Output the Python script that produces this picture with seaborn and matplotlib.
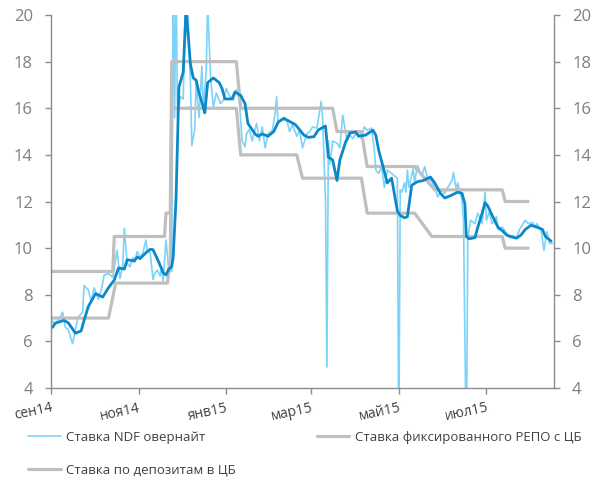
import matplotlib
matplotlib.use("Agg")
import matplotlib.pyplot as plt
import pandas as pd
import seaborn as sns

# ---- data -------------------------------------------------------------
ndf_dates = [
    "2014-09-23", "2014-09-26", "2014-09-29", "2014-10-01", "2014-10-03", "2014-10-05",
    "2014-10-08", "2014-10-11", "2014-10-12", "2014-10-15", "2014-10-16", "2014-10-19",
    "2014-10-21", "2014-10-23", "2014-10-26", "2014-10-28", "2014-10-30", "2014-11-02",
    "2014-11-05", "2014-11-07", "2014-11-08", "2014-11-10", "2014-11-12", "2014-11-13",
    "2014-11-15", "2014-11-17", "2014-11-19", "2014-11-20", "2014-11-22", "2014-11-24",
    "2014-11-26", "2014-11-28", "2014-11-29", "2014-12-01", "2014-12-03", "2014-12-04",
    "2014-12-06", "2014-12-08", "2014-12-09", "2014-12-10", "2014-12-12", "2014-12-14",
    "2014-12-16", "2014-12-17", "2014-12-18", "2014-12-19", "2014-12-20", "2014-12-22",
    "2014-12-24", "2014-12-26", "2014-12-29", "2014-12-30", "2015-01-01", "2015-01-02",
    "2015-01-04", "2015-01-06", "2015-01-07", "2015-01-09", "2015-01-10", "2015-01-12",
    "2015-01-14", "2015-01-16", "2015-01-19", "2015-01-21", "2015-01-23", "2015-01-25",
    "2015-01-28", "2015-01-30", "2015-02-01", "2015-02-03", "2015-02-05", "2015-02-06",
    "2015-02-08", "2015-02-10", "2015-02-13", "2015-02-15", "2015-02-17", "2015-02-19",
    "2015-02-21", "2015-02-24", "2015-02-26", "2015-02-27", "2015-02-28", "2015-03-02",
    "2015-03-06", "2015-03-08", "2015-03-10", "2015-03-13", "2015-03-15", "2015-03-17",
    "2015-03-20", "2015-03-22", "2015-03-24", "2015-03-27", "2015-03-28", "2015-03-30",
    "2015-03-31", "2015-04-02", "2015-04-03", "2015-04-04", "2015-04-05", "2015-04-07",
    "2015-04-10", "2015-04-12", "2015-04-14", "2015-04-17", "2015-04-19", "2015-04-21",
    "2015-04-24", "2015-04-27", "2015-04-29", "2015-05-01", "2015-05-04", "2015-05-06",
    "2015-05-07", "2015-05-09", "2015-05-11", "2015-05-13", "2015-05-15", "2015-05-18",
    "2015-05-22", "2015-05-23", "2015-05-24", "2015-05-25", "2015-05-27", "2015-05-28",
    "2015-05-29", "2015-05-30", "2015-06-02", "2015-06-03", "2015-06-05", "2015-06-08",
    "2015-06-10", "2015-06-12", "2015-06-15", "2015-06-17", "2015-06-19", "2015-06-22",
    "2015-06-24", "2015-06-26", "2015-06-29", "2015-06-30", "2015-07-02", "2015-07-03",
    "2015-07-06", "2015-07-07", "2015-07-09", "2015-07-10", "2015-07-12", "2015-07-15",
    "2015-07-17", "2015-07-20", "2015-07-22", "2015-07-23", "2015-07-25", "2015-07-27",
    "2015-07-30", "2015-07-31", "2015-08-01", "2015-08-03", "2015-08-06", "2015-08-08",
    "2015-08-10", "2015-08-13", "2015-08-15", "2015-08-19", "2015-08-21", "2015-08-24",
    "2015-08-26", "2015-08-27", "2015-08-30", "2015-09-01", "2015-09-03", "2015-09-05",
    "2015-09-07",
]
ndf_values = [
    6.9, 6.75, 7.0, 7.25, 6.6, 6.5,
    5.9, 6.8, 7.05, 7.25, 8.4, 8.2,
    7.7, 8.3, 7.8, 8.2, 8.85, 8.9,
    8.75, 9.5, 9.9, 8.7, 9.3, 10.85,
    9.35, 9.2, 9.6, 9.4, 9.85, 9.6,
    9.8, 10.35, 9.9, 9.8, 8.65, 8.9,
    9.05, 8.8, 9.2, 8.55, 10.35, 9.05,
    9.0, 22.0, 15.6, 22.0, 15.6, 16.5,
    16.4, 22.0, 17.2, 14.4, 15.1, 17.1,
    15.6, 17.8, 15.9, 17.6, 20.5, 17.35,
    16.05, 16.65, 16.2, 16.35, 16.85, 16.55,
    16.35, 16.8, 16.35, 14.6, 14.35, 14.9,
    15.1, 14.6, 15.35, 14.6, 15.2, 14.3,
    14.9, 15.05, 15.8, 16.5, 15.35, 15.5,
    15.5, 15.0, 15.3, 14.8, 15.05, 14.3,
    14.9, 15.0, 15.2, 15.15, 15.5, 16.3,
    15.6, 12.05, 4.9, 14.6, 13.6, 14.6,
    14.5, 14.3, 15.7, 14.6, 14.85, 14.7,
    15.0, 14.7, 15.2, 15.05, 15.15, 14.2,
    13.35, 13.2, 13.5, 12.6, 13.35, 13.2,
    13.0, 1.0, 12.5, 12.4, 12.8, 12.4,
    13.35, 12.6, 13.4, 12.8, 13.55, 13.1,
    13.5, 13.0, 12.85, 12.6, 12.2, 12.5,
    12.35, 12.6, 12.9, 13.25, 12.5, 12.8,
    12.05, 11.2, 1.0, 10.45, 11.2, 11.05,
    11.5, 11.05, 12.4, 11.2, 11.55, 11.05,
    11.35, 10.8, 10.8, 10.9, 10.65, 10.45,
    10.55, 10.45, 10.8, 11.2, 11.05, 11.1,
    10.9, 11.05, 10.8, 9.9, 10.7, 10.2,
    10.2,
]

# smoothed NDF overnight rate
ma_dates = [
    "2014-09-24", "2014-09-26", "2014-10-02", "2014-10-05", "2014-10-10", "2014-10-14",
    "2014-10-16", "2014-10-19", "2014-10-24", "2014-10-29", "2014-11-02", "2014-11-06",
    "2014-11-09", "2014-11-13", "2014-11-15", "2014-11-20", "2014-11-22", "2014-11-24",
    "2014-11-28", "2014-12-01", "2014-12-03", "2014-12-07", "2014-12-10", "2014-12-12",
    "2014-12-14", "2014-12-16", "2014-12-17", "2014-12-19", "2014-12-21", "2014-12-24",
    "2014-12-26", "2014-12-29", "2014-12-31", "2015-01-02", "2015-01-04", "2015-01-07",
    "2015-01-08", "2015-01-10", "2015-01-14", "2015-01-18", "2015-01-20", "2015-01-22",
    "2015-01-27", "2015-01-29", "2015-02-02", "2015-02-05", "2015-02-07", "2015-02-12",
    "2015-02-14", "2015-02-17", "2015-02-21", "2015-02-25", "2015-02-28", "2015-03-04",
    "2015-03-09", "2015-03-12", "2015-03-18", "2015-03-21", "2015-03-25", "2015-03-28",
    "2015-04-02", "2015-04-04", "2015-04-07", "2015-04-10", "2015-04-12", "2015-04-16",
    "2015-04-19", "2015-04-23", "2015-04-25", "2015-04-30", "2015-05-05", "2015-05-07",
    "2015-05-09", "2015-05-12", "2015-05-15", "2015-05-18", "2015-05-22", "2015-05-24",
    "2015-05-27", "2015-05-29", "2015-06-01", "2015-06-05", "2015-06-09", "2015-06-14",
    "2015-06-17", "2015-06-21", "2015-06-24", "2015-06-28", "2015-07-03", "2015-07-06",
    "2015-07-08", "2015-07-09", "2015-07-11", "2015-07-15", "2015-07-17", "2015-07-20",
    "2015-07-22", "2015-07-24", "2015-07-27", "2015-07-31", "2015-08-03", "2015-08-06",
    "2015-08-10", "2015-08-13", "2015-08-16", "2015-08-19", "2015-08-23", "2015-08-27",
    "2015-08-31", "2015-09-02", "2015-09-06",
]
ma_values = [
    6.6, 6.78, 6.9, 6.8, 6.35, 6.45,
    6.9, 7.5, 8.05, 7.9, 8.3, 8.63,
    9.15, 9.1, 9.5, 9.45, 9.62, 9.55,
    9.8, 9.95, 9.93, 9.4, 8.95, 8.85,
    9.1, 9.2, 9.6, 12.1, 16.9, 17.55,
    20.3, 17.9, 17.3, 17.2, 16.65, 16.05,
    15.8, 17.1, 17.3, 17.1, 16.85, 16.4,
    16.4, 16.7, 16.55, 16.2, 15.35, 14.9,
    14.8, 14.9, 14.8, 15.0, 15.4, 15.57,
    15.4, 15.3, 14.85, 14.75, 14.78, 15.07,
    15.24, 13.9, 13.78, 12.9, 13.78, 14.55,
    14.94, 14.98, 14.8, 14.85, 15.06, 14.85,
    14.2, 13.5, 12.8, 13.0, 11.6, 11.4,
    11.3, 11.35, 12.7, 12.85, 12.9, 13.05,
    12.8, 12.35, 12.15, 12.25, 12.4, 12.35,
    11.9, 10.5, 10.4, 10.45, 10.9, 11.5,
    11.95, 11.8, 11.4, 10.9, 10.75, 10.56,
    10.47, 10.43, 10.56, 10.8, 10.98, 10.9,
    10.8, 10.5, 10.3,
]

repo_dates = [
    "2014-09-23", "2014-11-05", "2014-11-06", "2014-12-11", "2014-12-12", "2014-12-15",
    "2014-12-16", "2015-01-30", "2015-02-02", "2015-04-07", "2015-04-10", "2015-04-27",
    "2015-05-01", "2015-06-03", "2015-06-17", "2015-08-03", "2015-08-05", "2015-08-21",
]
repo_values = [
    9.0, 9.0, 10.5, 10.5, 11.5, 11.5,
    18.0, 18.0, 16.0, 16.0, 15.0, 15.0,
    13.5, 13.5, 12.5, 12.5, 12.0, 12.0,
]

depo_dates = [
    "2014-09-23", "2014-11-02", "2014-11-07", "2014-12-13", "2014-12-15", "2014-12-16",
    "2015-01-30", "2015-02-02", "2015-03-13", "2015-03-17", "2015-04-27", "2015-05-01",
    "2015-06-03", "2015-06-15", "2015-08-03", "2015-08-05", "2015-08-21",
]
depo_values = [
    7.0, 7.0, 8.5, 8.5, 9.5, 16.0,
    16.0, 14.0, 14.0, 13.0, 13.0, 11.5,
    11.5, 10.5, 10.5, 10.0, 10.0,
]

tick_dates = ["2014-09-23", "2014-11-23", "2015-01-23", "2015-03-23", "2015-05-23", "2015-07-23"]
tick_labels = ["сен14", "ноя14", "янв15", "мар15", "май15", "июл15"]
y_ticks = [4, 6, 8, 10, 12, 14, 16, 18, 20]

label_ndf = "Ставка NDF овернайт"
label_repo = "Ставка фиксированного РЕПО с ЦБ"
label_depo = "Ставка по депозитам в ЦБ"

# ---- frames -----------------------------------------------------------
ndf = pd.DataFrame({"date": pd.to_datetime(ndf_dates), "rate": ndf_values})
ma = pd.DataFrame({"date": pd.to_datetime(ma_dates), "rate": ma_values})
repo = pd.DataFrame({"date": pd.to_datetime(repo_dates), "rate": repo_values})
depo = pd.DataFrame({"date": pd.to_datetime(depo_dates), "rate": depo_values})

# ---- style ------------------------------------------------------------
sns.set_style("white")
plt.rcParams["font.family"] = ["Open Sans", "DejaVu Sans"]

LIGHT = "#7dd3f7"
DARK = "#0b88c9"
GREY = "#bfbfbf"
AXIS = "#8c8c8c"
TICKTXT = "#7f7f7f"

fig = plt.figure(figsize=(6.02, 4.83), dpi=100)
ax = fig.add_axes([51 / 602, 1 - 388 / 483, (554 - 51) / 602, (388 - 15) / 483])

sns.lineplot(data=ndf, x="date", y="rate", ax=ax, color=LIGHT, lw=1.2,
             estimator=None, label=label_ndf)
sns.lineplot(data=repo, x="date", y="rate", ax=ax, color=GREY, lw=2.3,
             estimator=None, label=label_repo)
sns.lineplot(data=depo, x="date", y="rate", ax=ax, color=GREY, lw=2.3,
             estimator=None, label=label_depo)
sns.lineplot(data=ma, x="date", y="rate", ax=ax, color=DARK, lw=2.0,
             estimator=None, legend=False)

handles, labels = ax.get_legend_handles_labels()
ax.get_legend().remove()
# legend fills column by column: NDF / deposits in the first column, REPO in the second
by_label = dict(zip(labels, handles))
leg_order = [label_ndf, label_depo, label_repo]

# ---- axes -------------------------------------------------------------
ax.set_xlim(pd.Timestamp("2014-09-23"), pd.Timestamp("2015-09-08"))
ax.set_ylim(4, 20)
ax.set_xlabel("")
ax.set_ylabel("")

ax.set_yticks(y_ticks)
ax.set_yticklabels([str(v) for v in y_ticks])
ax.set_xticks(pd.to_datetime(tick_dates))
ax.set_xticklabels(tick_labels, rotation=12, ha="right", va="top",
                   rotation_mode="anchor")

for side in ("left", "right", "bottom"):
    ax.spines[side].set_visible(True)
    ax.spines[side].set_color(AXIS)
    ax.spines[side].set_linewidth(1.0)
ax.spines["top"].set_visible(False)

ax.tick_params(axis="y", which="both", left=True, right=True, labelleft=True,
               labelright=True, direction="out", length=4, width=1,
               color=AXIS, labelcolor=TICKTXT, labelsize=12, pad=9)
ax.tick_params(axis="x", bottom=True, direction="out", length=4, width=1,
               color=AXIS, labelcolor="#404040", labelsize=10, pad=5)
ax.grid(False)

fig.legend([by_label[k] for k in leg_order], leg_order, loc="upper left",
           bbox_to_anchor=(28 / 602, 1 - 431 / 483),
           ncol=2, frameon=False, fontsize=9.5, handlelength=2.5,
           handletextpad=0.4, columnspacing=6.1, labelspacing=1.45,
           borderpad=0, borderaxespad=0, labelcolor="#404040")

fig.savefig("out.png", dpi=100)
